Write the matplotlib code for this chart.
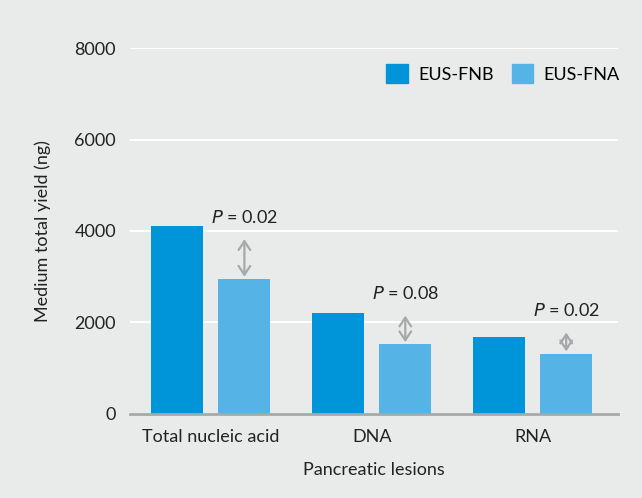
import numpy as np
import matplotlib.pyplot as plt
from matplotlib.patches import Patch

plt.rcParams['font.family'] = ['Lato', 'DejaVu Sans']

categories = ['Total nucleic acid', 'DNA', 'RNA']
fnb = [4100, 2200, 1680]
fna = [2950, 1520, 1320]
p_text = ['0.02', '0.08', '0.02']
arrow_top = [3820, 2150, 1780]

bg = '#e9ebea'
c_fnb = '#0095d9'
c_fna = '#55b4e5'
txt = '#222222'

fig = plt.figure(figsize=(6.42, 4.98), dpi=100, facecolor=bg)
ax = fig.add_axes([0.2025, 0.1687, 0.7601, 0.7349])
ax.set_facecolor(bg)

x = np.arange(len(categories))
w = 0.323
off = 0.208
ax.bar(x - off, fnb, w, color=c_fnb, zorder=3)
ax.bar(x + off, fna, w, color=c_fna, zorder=3)

# double arrows + P values
for i in range(len(categories)):
    ax.annotate('', xy=(x[i] + off, fna[i] + 50), xytext=(x[i] + off, arrow_top[i]),
                arrowprops=dict(arrowstyle='<->,head_length=0.45,head_width=0.3',
                                color='#a6a8a9', lw=1.6, shrinkA=0, shrinkB=0,
                                mutation_scale=14), zorder=4)
    ax.text(x[i] + off, arrow_top[i] + 300, '$P$ = ' + p_text[i], ha='center', va='bottom',
            fontsize=13, color=txt, zorder=4)

ax.set_xlim(-0.503, 2.53)
ax.set_ylim(0, 8000)
ax.set_yticks([0, 2000, 4000, 6000, 8000])
ax.grid(axis='y', color='white', lw=1.5, zorder=1)
ax.set_axisbelow(True)
for s in ['top', 'right', 'left']:
    ax.spines[s].set_visible(False)
ax.spines['bottom'].set_color('#a6a8a9')
ax.spines['bottom'].set_linewidth(2)
ax.spines['bottom'].set_zorder(5)
ax.tick_params(length=0, labelsize=13, colors=txt, pad=10)
ax.set_xticks(x)
ax.set_xticklabels(categories)
ax.tick_params(axis='x', pad=11)
ax.set_xlabel('Pancreatic lesions', fontsize=13, color=txt, labelpad=12)
ax.set_ylabel('Medium total yield (ng)', fontsize=13, color=txt, labelpad=17)

handles = [Patch(color=c_fnb, label='EUS-FNB'), Patch(color=c_fna, label='EUS-FNA')]
ax.legend(handles=handles, loc='upper right', bbox_to_anchor=(1.036, 1.0), ncol=2,
          frameon=False, fontsize=13, handlelength=1.2, handleheight=1.2,
          handletextpad=0.55, columnspacing=1.0)

fig.savefig('out.png', dpi=100, facecolor=bg)
